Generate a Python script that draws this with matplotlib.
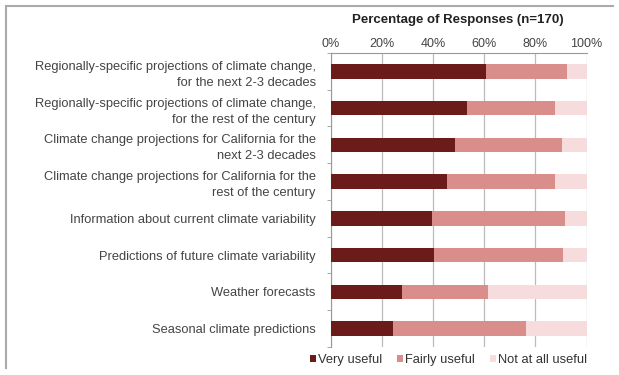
import matplotlib
matplotlib.use("Agg")
import matplotlib.pyplot as plt
import numpy as np

# survey items, top to bottom
items = [
    "Regionally-specific projections of climate change,\nfor the next 2-3 decades",
    "Regionally-specific projections of climate change,\nfor the rest of the century",
    "Climate change projections for California for the\nnext 2-3 decades",
    "Climate change projections for California for the\nrest of the century",
    "Information about current climate variability",
    "Predictions of future climate variability",
    "Weather forecasts",
    "Seasonal climate predictions",
]
very_useful = [60.7, 53.3, 48.5, 45.5, 39.7, 40.4, 27.7, 24.2]
fairly_useful = [31.5, 34.5, 41.8, 42.3, 51.9, 50.4, 33.9, 52.3]
not_useful = [7.8, 12.2, 9.7, 12.2, 8.4, 9.2, 38.4, 23.5]
tick_labels = ["0%", "20%", "40%", "60%", "80%", "100%"]

plt.rcParams['font.family'] = ['Liberation Sans', 'DejaVu Sans']

fig = plt.figure(figsize=(6.19, 3.75), dpi=100)
ax = fig.add_axes([0.5347, 0.0747, 0.4128, 0.784])

y = np.arange(len(items))
h = 0.4
very = np.array(very_useful)
fair = np.array(fairly_useful)
notu = np.array(not_useful)
ax.barh(y, very, height=h, color="#6c1b1b", label="Very useful", zorder=3)
ax.barh(y, fair, left=very, height=h, color="#d98e8b", label="Fairly useful", zorder=3)
ax.barh(y, notu, left=very + fair, height=h, color="#f7dcdd", label="Not at all useful", zorder=3)

ax.set_xlim(0, 100)
ax.set_ylim(len(items) - 0.5, -0.5)
ax.set_xticks(np.arange(0, 101, 20))
ax.set_xticklabels(tick_labels)
ax.xaxis.tick_top()
ax.tick_params(axis="x", length=0, pad=2.5, labelsize=9, labelcolor="#444444")
ax.grid(axis="x", color="#bbbbbb", linewidth=0.9, zorder=0)

ax.set_yticks(y)
ax.set_yticklabels(items, fontsize=9.3, color="#444444", linespacing=1.45)
ax.set_yticks(np.arange(-0.5, len(items), 1), minor=True)
ax.tick_params(axis="y", which="major", length=0, pad=11)
ax.tick_params(axis="y", which="minor", length=3, color="#999999")

for s in ["right", "bottom"]:
    ax.spines[s].set_visible(False)
ax.spines["left"].set_color("#999999")
ax.spines["top"].set_color("#999999")

fig.text(0.74, 0.947, "Percentage of Responses (n=170)", fontsize=9.5,
         fontweight="bold", color="#222222", ha="center", va="center")

ax.legend(loc="upper center", bbox_to_anchor=(0.46, 0.015), ncol=3, frameon=False,
          fontsize=9.3, handlelength=0.45, handleheight=0.45, handletextpad=0.15,
          columnspacing=1.2, labelcolor="#333333")

# outer frame (top and left edges)
fig.add_artist(plt.Line2D([0.01, 0.99], [0.985, 0.985], color="#aaaaaa", linewidth=1.5))
fig.add_artist(plt.Line2D([0.01, 0.01], [0.02, 0.985], color="#aaaaaa", linewidth=1.5))

fig.savefig("out.png", dpi=100)
